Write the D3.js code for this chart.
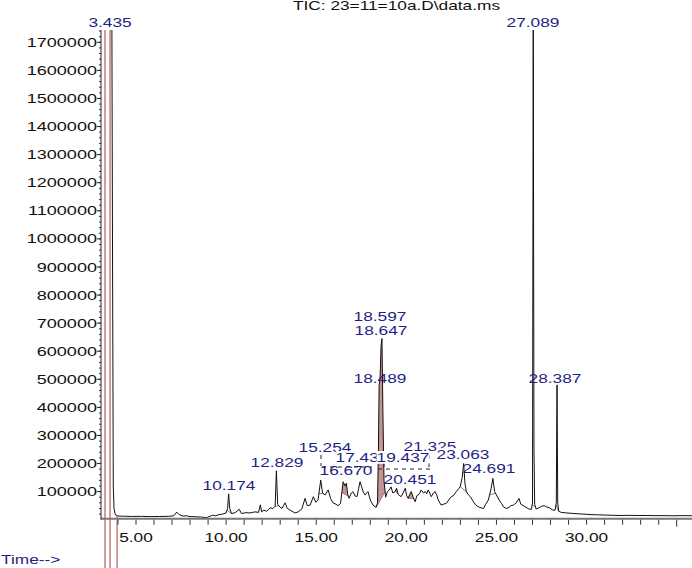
<!DOCTYPE html>
<html><head><meta charset="utf-8">
<script src="https://cdn.jsdelivr.net/npm/d3@7"></script>
<style>body{margin:0;background:#fff}svg{display:block}text{font-family:"Liberation Sans",Arial,sans-serif;font-size:13px}</style>
</head><body><svg id="c" width="692" height="568"></svg>
<script>
// ---- data ----
const title = "TIC: 23=11=10a.D\\data.ms";
const times = [3.62,3.66,3.70,3.74,3.78,3.85,4.0,4.3,4.8,5.3,5.8,6.3,6.8,7.1,7.26,7.4,7.6,7.8,8.0,8.3,8.6,8.9,9.1,9.25,9.4,9.6,9.8,10.0,10.08,10.14,10.2,10.3,10.5,10.73,10.85,11.1,11.33,11.6,11.8,11.9,11.97,12.1,12.25,12.44,12.6,12.72,12.79,12.86,12.99,13.1,13.27,13.4,13.55,13.82,14.0,14.2,14.38,14.5,14.66,14.84,14.98,15.1,15.25,15.35,15.49,15.66,15.8,15.93,16.1,16.21,16.35,16.49,16.6,16.67,16.75,16.82,16.95,17.04,17.15,17.26,17.35,17.43,17.52,17.6,17.71,17.8,17.87,18.0,18.15,18.32,18.40,18.45,18.489,18.54,18.597,18.647,18.70,18.76,18.85,18.95,19.04,19.15,19.25,19.37,19.46,19.55,19.71,19.82,19.94,20.02,20.1,20.2,20.27,20.38,20.49,20.58,20.65,20.75,20.82,20.95,21.05,21.13,21.21,21.3,21.38,21.5,21.6,21.7,21.77,21.93,22.05,22.21,22.35,22.49,22.6,22.77,22.9,22.99,23.1,23.18,23.25,23.33,23.45,23.55,23.72,23.85,24.0,24.15,24.28,24.4,24.55,24.7,24.8,24.9,25.0,25.15,25.28,25.4,25.55,25.7,25.8,25.94,26.1,26.25,26.35,26.6,26.8,26.94,27.0,27.04,27.08,27.12,27.2,27.35,27.5,27.65,27.8,27.95,28.1,28.25,28.32,28.36,28.40,28.45,28.6,28.9,29.3,29.8,30.3,30.8,31.3,31.8,32.3,32.8,33.3,33.8,34.3,34.8,35.3,35.85];
const intensity = [1800000,1800000,900000,120000,40000,18000,13000,12500,11500,12000,11000,11500,12000,14000,27000,18000,13000,14000,11000,10500,9500,7500,12000,16000,14000,18000,20000,24000,40000,92000,40000,22000,25000,37000,22000,25000,24000,28000,26000,53000,28000,34000,30000,42000,40000,48000,174000,55000,45000,40000,60000,40000,34000,24000,28000,38000,76000,50000,52000,82000,62000,70000,141000,95000,88000,106000,75000,60000,55000,50000,58000,135000,120000,130000,90000,76000,95000,100000,85000,82000,110000,135000,117000,100000,88000,95000,100000,70000,52000,44000,60000,250000,480000,500000,620000,645000,380000,140000,80000,100000,105000,117000,95000,100000,112000,90000,82000,95000,112000,85000,76000,92000,100000,80000,64000,85000,88000,95000,106000,95000,100000,92000,106000,95000,82000,95000,100000,85000,70000,52000,55000,58000,70000,82000,85000,100000,110000,118000,150000,200000,130000,100000,88000,82000,64000,52000,46000,42000,40000,55000,70000,110000,147000,100000,88000,70000,58000,45000,40000,44000,50000,52000,60000,76000,55000,46000,38000,37000,60000,1800000,250000,55000,38000,42000,48000,50000,45000,42000,35000,34000,60000,480000,60000,30000,26000,24000,22000,20000,18000,17000,16000,15000,15500,15000,15000,14500,14500,14000,14500,14000];
const peakLabels = ["3.435","27.089","18.597","18.647","18.489","28.387","10.174","12.829","15.254","21.325","17.432","19.437","23.063","16.670","20.451","24.691"];
const integStart = [10.05,12.70,15.15,16.42,18.32,19.38,20.10,22.99,24.62,26.98,28.30];
const integEnd   = [10.30,12.92,15.40,16.78,18.82,19.55,20.42,23.35,24.95,27.16,28.45];
const integFilled = [false,false,false,true,true,true,true,false,false,false,false];
const eventMarks = [3.28,3.56];
const eventMarksLow = [3.95];
const xTicks = [5,10,15,20,25,30];
const yTicks = [100000,200000,300000,400000,500000,600000,700000,800000,900000,1000000,1100000,1200000,1300000,1400000,1500000,1600000,1700000];

// ---- layout ----
const L = {left:101, right:692, top:30, bottom:519.7};
const labelPos = [[110,27],[533,27],[380,321],[381,335],[380,383],[555,383],[229,490],[277,467],[325,452],[430,451],[362,462],[403,462],[463,459],[346,475],[410,484],[489,473]];
const navy = "#1f1f85", pink = "#c39494", red = "#b86a6a";
const SX = 1.33, SXY = 1.39;

const svg = d3.select("#c");
const x = d3.scaleLinear().domain([5,35]).range([136,676.7]);
const y = d3.scaleLinear().domain([0,1743800]).range([L.bottom, L.top]);

svg.append("defs").append("clipPath").attr("id","pc").append("rect")
  .attr("x",L.left).attr("y",L.top).attr("width",L.right-L.left).attr("height",L.bottom-L.top+1);

const pts = times.map((t,i)=>[t,intensity[i]]);
function interp(t){
  for(let i=1;i<pts.length;i++){ if(pts[i][0]>=t){const a=pts[i-1],b=pts[i];return a[1]+(b[1]-a[1])*(t-a[0])/(b[0]-a[0]);} }
  return pts[pts.length-1][1];
}
const line = d3.line().x(d=>x(d[0])).y(d=>y(d[1]));

const plot = svg.append("g").attr("clip-path","url(#pc)");
// integrated areas
integStart.forEach((s,i)=>{
  const e = integEnd[i];
  if(integFilled[i]){
    const poly = [[s,interp(s)], ...pts.filter(p=>p[0]>s&&p[0]<e), [e,interp(e)]];
    plot.append("path").attr("d", line(poly)+"Z").attr("fill",pink).attr("stroke","none");
  }
  plot.append("line").attr("x1",x(s)).attr("y1",y(interp(s))).attr("x2",x(e)).attr("y2",y(interp(e)))
    .attr("stroke",red).attr("stroke-width",1);
});
// trace
plot.append("path").attr("d",line(pts)).attr("fill","none").attr("stroke","#111").attr("stroke-width",1);

// event marks (red vertical lines)
eventMarks.forEach(t=>svg.append("line").attr("x1",x(t)).attr("x2",x(t)).attr("y1",L.top).attr("y2",568).attr("stroke",red).attr("stroke-width",1.3));
eventMarksLow.forEach(t=>svg.append("line").attr("x1",x(t)).attr("x2",x(t)).attr("y1",y(intensity[6])).attr("y2",568).attr("stroke",red).attr("stroke-width",1.3));

// axes
svg.append("line").attr("x1",L.left).attr("x2",L.right).attr("y1",L.bottom-1).attr("y2",L.bottom-1).attr("stroke","#777").attr("stroke-width",2);
svg.append("line").attr("x1",L.left).attr("x2",L.left).attr("y1",L.top).attr("y2",L.bottom).attr("stroke","#222").attr("stroke-width",1);
d3.range(4,36).forEach(t=>svg.append("line").attr("x1",x(t)).attr("x2",x(t)).attr("y1",L.bottom).attr("y2",L.bottom+(t===35?7:5)).attr("stroke","#333"));
xTicks.forEach(t=>svg.append("text").attr("transform",`translate(${x(t)},541.5) scale(${SX},1)`).attr("text-anchor","middle").attr("fill","#111").text(t.toFixed(2)));
d3.range(20000,1743800,20000).forEach(v=>svg.append("line").attr("x1",L.left-2).attr("x2",L.left).attr("y1",y(v)).attr("y2",y(v)).attr("stroke","#333"));
yTicks.forEach(v=>{
  svg.append("line").attr("x1",L.left-4).attr("x2",L.left).attr("y1",y(v)).attr("y2",y(v)).attr("stroke","#222");
  svg.append("text").attr("transform",`translate(97,${y(v)+4.6}) scale(${SXY},1)`).attr("text-anchor","end").attr("fill","#111").text(v);
});

// leader dashes
const leaders = [[321,455,321,466],[322,467,372,467],[384,463,384,469],[396,453,396,462],[429,455,429,470],[378,469,432,469]];
leaders.forEach(l=>svg.append("line").attr("x1",l[0]).attr("y1",l[1]).attr("x2",l[2]).attr("y2",l[3]).attr("stroke","#222").attr("stroke-dasharray","4,4"));

// peak labels (later boxed ones cover earlier, as in the reference)
peakLabels.forEach((lab,i)=>{
  const [cx,by] = labelPos[i];
  const g = svg.append("g").attr("transform",`translate(${cx},${by}) scale(${SX},1)`);
  const t = g.append("text").attr("text-anchor","middle").attr("fill",navy).text(lab);
  if(i>=9 && i<=12){
    const bb = t.node().getBBox();
    g.insert("rect","text").attr("x",bb.x).attr("y",bb.y+1).attr("width",bb.width).attr("height",bb.height-2).attr("fill","#fff");
  }
});

svg.append("text").attr("transform",`translate(396.5,9.5) scale(${SX},1)`).attr("text-anchor","middle").attr("fill","#111").text(title);
svg.append("text").attr("transform",`translate(1,564) scale(${SX},1)`).attr("fill",navy).text("Time-->");
</script></body></html>
